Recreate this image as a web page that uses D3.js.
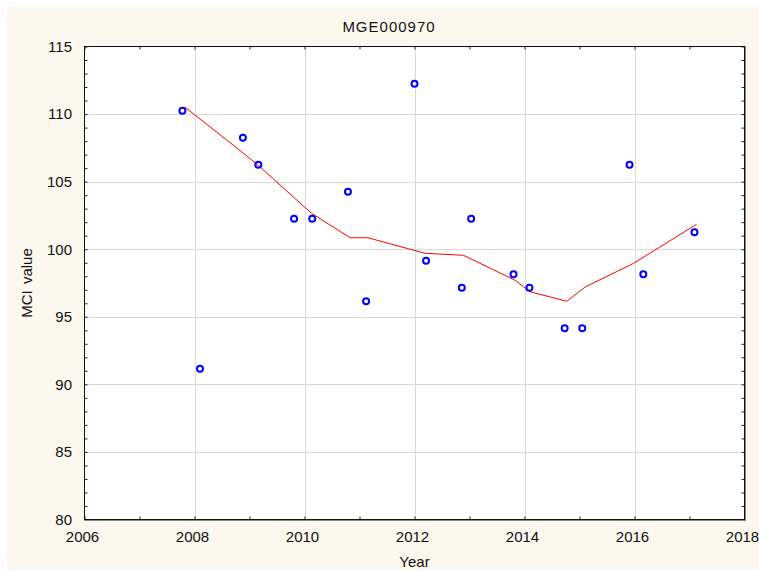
<!DOCTYPE html>
<html>
<head>
<meta charset="utf-8">
<script src="https://cdn.jsdelivr.net/npm/d3@7"></script>
<style>
  html, body { margin: 0; padding: 0; background: #ffffff; }
  svg { display: block; font-family: "Liberation Sans", Arial, sans-serif; }
</style>
</head>
<body>
<svg id="chart" width="759" height="572"></svg>
<script>
// Observed MCI values by (fractional) sampling year
const obsYear = [2007.78, 2008.10, 2008.88, 2009.16, 2009.81, 2010.14, 2010.79, 2011.12,
                 2012.00, 2012.21, 2012.86, 2013.03, 2013.80, 2014.09, 2014.73, 2015.05,
                 2015.91, 2016.16, 2017.09];
const obsMCI  = [110.25, 91.15, 108.25, 106.25, 102.25, 102.25, 104.25, 96.15,
                 112.25, 99.15, 97.15, 102.25, 98.15, 97.15, 94.15, 94.15,
                 106.25, 98.15, 101.25];

// Smoothed trend line
const fitYear  = [2007.83, 2008.86, 2009.16, 2010.13, 2010.83, 2011.15, 2012.19, 2012.89,
                  2013.83, 2014.10, 2014.77, 2015.10, 2015.98, 2017.13];
const fitValue = [110.5, 107.2, 106.2, 102.65, 100.85, 100.85, 99.7, 99.55,
                  97.7, 96.85, 96.15, 97.2, 98.95, 101.85];

// Axis ticks
const xMajorTicks = [2006, 2008, 2010, 2012, 2014, 2016, 2018];
const xMinorTicks = [2006, 2007, 2008, 2009, 2010, 2011, 2012, 2013, 2014, 2015, 2016, 2017, 2018];
const yMajorTicks = [80, 85, 90, 95, 100, 105, 110, 115];
const yMinorTicks = d3.range(80, 116, 1);

const chartTitle = "MGE000970";
const xTitle = "Year";
const yTitle = "MCI value";

const svg = d3.select("#chart");
const W = 759, H = 572;
const plot = { left: 84.5, top: 46.5, right: 744.5, bottom: 519.5 };

const x = d3.scaleLinear().domain([2006, 2018]).range([plot.left, plot.right]);
const y = d3.scaleLinear().domain([80, 115]).range([plot.bottom, plot.top]);

// Panel background
svg.append("rect").attr("x", 7).attr("y", 7).attr("width", W - 7).attr("height", 563)
  .attr("fill", "#fdf8ee");
svg.append("rect").attr("x", plot.left).attr("y", plot.top)
  .attr("width", plot.right - plot.left).attr("height", plot.bottom - plot.top)
  .attr("fill", "#ffffff");

// Grid
const grid = svg.append("g").attr("stroke", "#d9d9d9").attr("stroke-width", 1);
grid.selectAll(".gx").data(xMajorTicks.slice(1, -1)).join("line")
  .attr("x1", d => Math.round(x(d)) + 0.5).attr("x2", d => Math.round(x(d)) + 0.5)
  .attr("y1", plot.top).attr("y2", plot.bottom);
grid.selectAll(".gy").data(yMajorTicks.slice(1, -1)).join("line")
  .attr("y1", d => Math.round(y(d)) + 0.5).attr("y2", d => Math.round(y(d)) + 0.5)
  .attr("x1", plot.left).attr("x2", plot.right);

// Axes with inward ticks on all four sides
const tickLen = 3;
const fmt = d3.format("d");
const axBottom = d3.axisBottom(x).tickValues(xMinorTicks).tickSize(-tickLen).tickFormat("");
const axTop = d3.axisTop(x).tickValues(xMinorTicks).tickSize(-tickLen).tickFormat("");
const axLeft = d3.axisLeft(y).tickValues(yMinorTicks).tickSize(-tickLen).tickFormat("");
const axRight = d3.axisRight(y).tickValues(yMinorTicks).tickSize(-tickLen).tickFormat("");

function styleAxis(g) {
  g.select(".domain").remove();
  g.selectAll(".tick line").attr("stroke", "#222");
}
svg.append("g").attr("transform", `translate(0,${plot.bottom})`).call(axBottom).call(styleAxis);
svg.append("g").attr("transform", `translate(0,${plot.top})`).call(axTop).call(styleAxis);
svg.append("g").attr("transform", `translate(${plot.left},0)`).call(axLeft).call(styleAxis);
svg.append("g").attr("transform", `translate(${plot.right},0)`).call(axRight).call(styleAxis);

// Frame (right and bottom edges carry a soft shadow line)
svg.append("rect").attr("x", plot.left).attr("y", plot.top)
  .attr("width", plot.right - plot.left).attr("height", plot.bottom - plot.top)
  .attr("fill", "none").attr("stroke", "#111").attr("stroke-width", 1);
svg.append("line").attr("x1", plot.left).attr("x2", plot.right + 1.5)
  .attr("y1", plot.bottom + 1).attr("y2", plot.bottom + 1).attr("stroke", "#888");
svg.append("line").attr("x1", plot.right + 1).attr("x2", plot.right + 1)
  .attr("y1", plot.top).attr("y2", plot.bottom + 1).attr("stroke", "#888");

// Tick labels
svg.append("g").selectAll("text").data(xMajorTicks).join("text")
  .attr("x", d => x(d) - 2).attr("y", plot.bottom + 22)
  .attr("text-anchor", "middle").attr("font-size", 15).attr("fill", "#111")
  .text(d => fmt(d));
svg.append("g").selectAll("text").data(yMajorTicks).join("text")
  .attr("x", 72).attr("y", d => y(d)).attr("dy", "0.36em")
  .attr("text-anchor", "end").attr("font-size", 15).attr("fill", "#111")
  .text(d => fmt(d));

// Titles
svg.append("text").attr("x", 389).attr("y", 32).attr("text-anchor", "middle")
  .attr("font-size", 15).attr("letter-spacing", 1).attr("fill", "#111").text(chartTitle);
svg.append("text").attr("x", (plot.left + plot.right) / 2).attr("y", 567)
  .attr("text-anchor", "middle").attr("font-size", 15).attr("fill", "#111").text(xTitle);
svg.append("text").attr("transform", `translate(32,${(plot.top + plot.bottom) / 2}) rotate(-90)`)
  .attr("text-anchor", "middle").attr("font-size", 15).attr("fill", "#111")
  .attr("word-spacing", 2).text(yTitle);

// Trend line
const line = d3.line().x((d, i) => x(fitYear[i])).y(d => y(d));
svg.append("path").datum(fitValue).attr("d", line)
  .attr("fill", "none").attr("stroke", "#ff0000").attr("stroke-width", 1);

// Observations
svg.append("g").selectAll("circle").data(obsMCI).join("circle")
  .attr("cx", (d, i) => x(obsYear[i])).attr("cy", d => y(d)).attr("r", 3)
  .attr("fill", "none").attr("stroke", "#0000ff").attr("stroke-width", 2);
</script>
</body>
</html>
